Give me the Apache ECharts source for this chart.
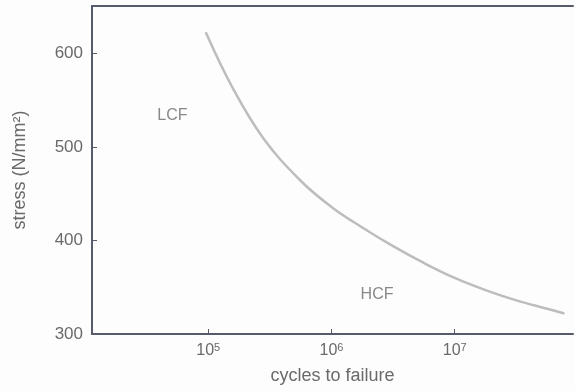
<!DOCTYPE html>
<html>
<head>
<meta charset="utf-8">
<script src="https://cdn.jsdelivr.net/npm/echarts@6/dist/echarts.min.js"></script>
<style>
html,body{margin:0;padding:0;background:#fdfdfd;}
#main{width:575px;height:391px;}
</style>
</head>
<body>
<div id="main"></div>
<script>
// log10(cycles to failure)
var logCycles = [4.98, 5.2, 5.45, 5.75, 6.0, 6.25, 6.5, 6.75, 7.0, 7.25, 7.5, 7.75, 7.89];
// stress (N/mm²)
var stress = [623, 563, 509, 464, 436, 414, 394, 376, 360, 347, 336, 327, 322];
var xTickExponents = [5, 6, 7];
var yTicks = [300, 400, 500, 600];
var regionLabels = ['LCF', 'HCF'];
var regionLogX = [4.71, 6.37];
var regionY = [534, 342];

var textColor = '#6a6a6a';
var axisColor = '#565a6b';
var font = 'Liberation Sans, Arial, sans-serif';

var chart = echarts.init(document.getElementById('main'));
chart.setOption({
  backgroundColor: '#fdfdfd',
  animation: false,
  grid: {left: 92, right: 2, top: 6, bottom: 57},
  xAxis: [{
    type: 'value',
    min: 4.057,
    max: 7.96,
    name: 'cycles to failure',
    nameLocation: 'middle',
    nameGap: 33,
    nameTextStyle: {color: textColor, fontSize: 18, fontFamily: font},
    axisLine: {show: true, lineStyle: {color: axisColor, width: 2}},
    axisTick: {show: true, inside: true, length: 5, customValues: xTickExponents, lineStyle: {color: axisColor}},
    splitLine: {show: false},
    axisLabel: {
      customValues: xTickExponents,
      margin: 8,
      color: textColor,
      fontSize: 16,
      fontFamily: font,
      formatter: function (v) { return '10{sup|' + v + '}'; },
      rich: {sup: {fontSize: 11, color: textColor, fontFamily: font, verticalAlign: 'top', padding: [0, 0, 6, 0]}}
    }
  }, {
    type: 'value',
    position: 'top',
    min: 4.057,
    max: 7.96,
    axisLine: {show: true, lineStyle: {color: axisColor, width: 2}},
    axisTick: {show: false},
    axisLabel: {show: false},
    splitLine: {show: false}
  }],
  yAxis: {
    type: 'value',
    min: 300,
    max: 651,
    name: 'stress (N/mm\u00B2)',
    nameLocation: 'middle',
    nameGap: 63,
    nameTextStyle: {color: textColor, fontSize: 18, fontFamily: font},
    axisLine: {show: true, lineStyle: {color: axisColor, width: 2}},
    axisTick: {show: true, inside: true, length: 5, customValues: yTicks, lineStyle: {color: axisColor}},
    splitLine: {show: false},
    axisLabel: {customValues: yTicks, margin: 9, color: textColor, fontSize: 17, fontFamily: font}
  },
  series: [{
    type: 'line',
    smooth: 0.4,
    symbol: 'none',
    data: logCycles.map(function (x, i) { return [x, stress[i]]; }),
    lineStyle: {color: '#bdbdbd', width: 2.5}
  }, {
    type: 'scatter',
    symbolSize: 0,
    silent: true,
    data: regionLabels.map(function (t, i) { return {value: [regionLogX[i], regionY[i]], name: t}; }),
    label: {show: true, position: 'inside', formatter: '{b}', color: textColor, fontSize: 16, fontFamily: font}
  }]
});
</script>
</body>
</html>
